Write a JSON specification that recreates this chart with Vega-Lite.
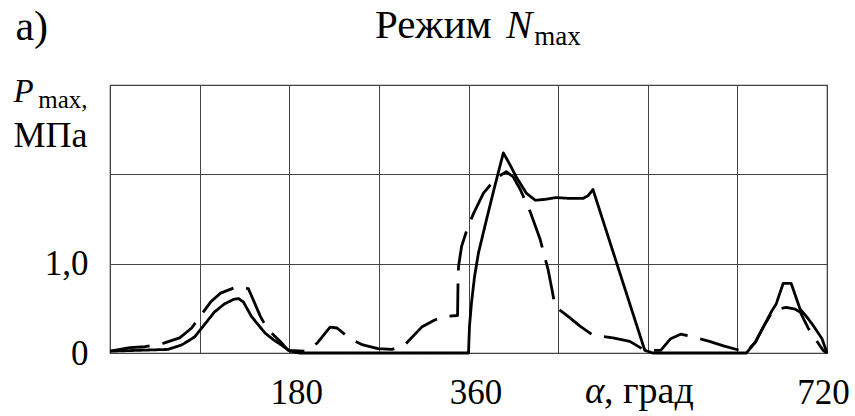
{
  "$schema": "https://vega.github.io/schema/vega-lite/v6.json",
  "width": 717,
  "height": 268,
  "autosize": "none",
  "padding": {"left": 110, "top": 85, "right": 28, "bottom": 63},
  "background": "white",
  "config": {
    "view": {"stroke": "#3a3a3a", "strokeWidth": 1.2},
    "font": "Liberation Serif, Times New Roman, serif",
    "axis": {"labelFont": "Liberation Serif, Times New Roman, serif"},
    "text": {"font": "Liberation Serif, Times New Roman, serif"}
  },
  "datasets": {
    "curves": [
      {"a": 0, "p": 0.02, "s": "solid"},
      {"a": 28, "p": 0.03, "s": "solid"},
      {"a": 58, "p": 0.04, "s": "solid"},
      {"a": 72, "p": 0.09, "s": "solid"},
      {"a": 85, "p": 0.18, "s": "solid"},
      {"a": 95, "p": 0.32, "s": "solid"},
      {"a": 105, "p": 0.46, "s": "solid"},
      {"a": 115, "p": 0.55, "s": "solid"},
      {"a": 124, "p": 0.6, "s": "solid"},
      {"a": 129, "p": 0.61, "s": "solid"},
      {"a": 134, "p": 0.57, "s": "solid"},
      {"a": 142, "p": 0.41, "s": "solid"},
      {"a": 150, "p": 0.3, "s": "solid"},
      {"a": 156, "p": 0.22, "s": "solid"},
      {"a": 164, "p": 0.15, "s": "solid"},
      {"a": 172, "p": 0.09, "s": "solid"},
      {"a": 181, "p": 0.02, "s": "solid"},
      {"a": 190, "p": 0.0, "s": "solid"},
      {"a": 360, "p": 0.0, "s": "solid"},
      {"a": 361, "p": 0.3, "s": "solid"},
      {"a": 363, "p": 0.56, "s": "solid"},
      {"a": 366, "p": 0.85, "s": "solid"},
      {"a": 370, "p": 1.12, "s": "solid"},
      {"a": 378, "p": 1.49, "s": "solid"},
      {"a": 386, "p": 1.85, "s": "solid"},
      {"a": 395, "p": 2.24, "s": "solid"},
      {"a": 402, "p": 2.1, "s": "solid"},
      {"a": 408, "p": 1.97, "s": "solid"},
      {"a": 418, "p": 1.79, "s": "solid"},
      {"a": 427, "p": 1.71, "s": "solid"},
      {"a": 437, "p": 1.72, "s": "solid"},
      {"a": 448, "p": 1.74, "s": "solid"},
      {"a": 462, "p": 1.73, "s": "solid"},
      {"a": 475, "p": 1.73, "s": "solid"},
      {"a": 480, "p": 1.76, "s": "solid"},
      {"a": 485, "p": 1.83, "s": "solid"},
      {"a": 537, "p": 0.03, "s": "solid"},
      {"a": 545, "p": 0.0, "s": "solid"},
      {"a": 639, "p": 0.0, "s": "solid"},
      {"a": 648, "p": 0.12, "s": "solid"},
      {"a": 656, "p": 0.29, "s": "solid"},
      {"a": 664, "p": 0.46, "s": "solid"},
      {"a": 669, "p": 0.55, "s": "solid"},
      {"a": 676, "p": 0.78, "s": "solid"},
      {"a": 684, "p": 0.78, "s": "solid"},
      {"a": 693, "p": 0.49, "s": "solid"},
      {"a": 700, "p": 0.4, "s": "solid"},
      {"a": 706, "p": 0.31, "s": "solid"},
      {"a": 715, "p": 0.16, "s": "solid"},
      {"a": 720, "p": 0.0, "s": "solid"},
      {"a": 0, "p": 0.02, "s": "dashed"},
      {"a": 20, "p": 0.06, "s": "dashed"},
      {"a": 35, "p": 0.07, "s": "dashed"},
      {"a": 54, "p": 0.11, "s": "dashed"},
      {"a": 70, "p": 0.17, "s": "dashed"},
      {"a": 82, "p": 0.28, "s": "dashed"},
      {"a": 101, "p": 0.57, "s": "dashed"},
      {"a": 111, "p": 0.67, "s": "dashed"},
      {"a": 127, "p": 0.74, "s": "dashed"},
      {"a": 139, "p": 0.72, "s": "dashed"},
      {"a": 151, "p": 0.41, "s": "dashed"},
      {"a": 158, "p": 0.27, "s": "dashed"},
      {"a": 171, "p": 0.13, "s": "dashed"},
      {"a": 179, "p": 0.03, "s": "dashed"},
      {"a": 196, "p": 0.02, "s": "dashed"},
      {"a": 208, "p": 0.11, "s": "dashed"},
      {"a": 221, "p": 0.29, "s": "dashed"},
      {"a": 228, "p": 0.28, "s": "dashed"},
      {"a": 241, "p": 0.16, "s": "dashed"},
      {"a": 254, "p": 0.09, "s": "dashed"},
      {"a": 269, "p": 0.05, "s": "dashed"},
      {"a": 283, "p": 0.04, "s": "dashed"},
      {"a": 296, "p": 0.09, "s": "dashed"},
      {"a": 313, "p": 0.29, "s": "dashed"},
      {"a": 326, "p": 0.37, "s": "dashed"},
      {"a": 336, "p": 0.41, "s": "dashed"},
      {"a": 349, "p": 0.42, "s": "dashed"},
      {"a": 349.5, "p": 0.8, "s": "dashed"},
      {"a": 350, "p": 0.97, "s": "dashed"},
      {"a": 353, "p": 1.19, "s": "dashed"},
      {"a": 359, "p": 1.4, "s": "dashed"},
      {"a": 365, "p": 1.56, "s": "dashed"},
      {"a": 375, "p": 1.79, "s": "dashed"},
      {"a": 388, "p": 1.96, "s": "dashed"},
      {"a": 398, "p": 2.03, "s": "dashed"},
      {"a": 405, "p": 1.97, "s": "dashed"},
      {"a": 412, "p": 1.83, "s": "dashed"},
      {"a": 422, "p": 1.58, "s": "dashed"},
      {"a": 432, "p": 1.27, "s": "dashed"},
      {"a": 440, "p": 0.93, "s": "dashed"},
      {"a": 444, "p": 0.7, "s": "dashed"},
      {"a": 447, "p": 0.52, "s": "dashed"},
      {"a": 460, "p": 0.41, "s": "dashed"},
      {"a": 472, "p": 0.3, "s": "dashed"},
      {"a": 485, "p": 0.2, "s": "dashed"},
      {"a": 505, "p": 0.17, "s": "dashed"},
      {"a": 522, "p": 0.13, "s": "dashed"},
      {"a": 537, "p": 0.03, "s": "dashed"},
      {"a": 553, "p": 0.03, "s": "dashed"},
      {"a": 563, "p": 0.16, "s": "dashed"},
      {"a": 573, "p": 0.21, "s": "dashed"},
      {"a": 586, "p": 0.18, "s": "dashed"},
      {"a": 602, "p": 0.13, "s": "dashed"},
      {"a": 616, "p": 0.08, "s": "dashed"},
      {"a": 639, "p": 0.01, "s": "dashed"},
      {"a": 648, "p": 0.12, "s": "dashed"},
      {"a": 656, "p": 0.29, "s": "dashed"},
      {"a": 664, "p": 0.44, "s": "dashed"},
      {"a": 670, "p": 0.49, "s": "dashed"},
      {"a": 679, "p": 0.51, "s": "dashed"},
      {"a": 688, "p": 0.49, "s": "dashed"},
      {"a": 693, "p": 0.46, "s": "dashed"},
      {"a": 701, "p": 0.28, "s": "dashed"},
      {"a": 716, "p": 0.03, "s": "dashed"},
      {"a": 720, "p": 0.0, "s": "dashed"}
    ]
  },
  "layer": [
    {
      "data": {"name": "curves"},
      "mark": {"type": "line", "color": "black", "strokeWidth": 2.8, "strokeJoin": "round"},
      "encoding": {
        "x": {
          "field": "a", "type": "quantitative",
          "scale": {"domain": [0, 720], "nice": false, "zero": false},
          "axis": {
            "values": [0, 90, 180, 270, 360, 450, 540, 630, 720],
            "grid": true, "gridColor": "#444", "gridWidth": 1, "gridOpacity": 1,
            "domain": false, "ticks": false, "title": null,
            "labelExpr": "datum.value == 180 || datum.value == 360 || datum.value == 720 ? datum.label : ''",
            "labelFont": "Liberation Serif, Times New Roman, serif", "labelFontSize": 35, "labelColor": "black",
            "labelBaseline": "alphabetic", "labelPadding": 50,
            "labelOffset": {"condition": {"test": "datum.value == 720", "value": -4}, "value": 7},
            "labelFlush": false, "labelOverlap": false
          }
        },
        "y": {
          "field": "p", "type": "quantitative",
          "scale": {"domain": [0, 3], "nice": false},
          "axis": {
            "values": [0, 1, 2, 3],
            "grid": true, "gridColor": "#444", "gridWidth": 1, "gridOpacity": 1,
            "domain": false, "ticks": false, "title": null,
            "labelExpr": "datum.value == 0 ? '0' : (datum.value == 1 ? '1,0' : '')",
            "labelFont": "Liberation Serif, Times New Roman, serif", "labelFontSize": 35, "labelColor": "black",
            "labelBaseline": "middle", "labelPadding": 22,
            "labelFlush": false, "labelOverlap": false
          }
        },
        "strokeDash": {
          "field": "s", "type": "nominal",
          "scale": {"domain": ["solid", "dashed"], "range": [[1, 0], [40, 13]]},
          "legend": null
        }
      }
    },
    {
      "data": {"values": [{}]},
      "mark": {"type": "text", "text": "а)", "align": "left", "baseline": "alphabetic", "font": "Liberation Serif, Times New Roman, serif", "fontSize": 42, "color": "black"},
      "encoding": {"x": {"datum": -95}, "y": {"datum": 3.5}}
    },
    {
      "data": {"values": [{}]},
      "mark": {"type": "text", "text": "Режим", "align": "left", "baseline": "alphabetic", "font": "Liberation Serif, Times New Roman, serif", "fontSize": 41, "color": "black"},
      "encoding": {"x": {"datum": 266}, "y": {"datum": 3.53}}
    },
    {
      "data": {"values": [{}]},
      "mark": {"type": "text", "text": "N", "align": "left", "baseline": "alphabetic", "font": "Liberation Serif, Times New Roman, serif", "fontStyle": "italic", "fontSize": 39, "color": "black"},
      "encoding": {"x": {"datum": 398}, "y": {"datum": 3.53}}
    },
    {
      "data": {"values": [{}]},
      "mark": {"type": "text", "text": "max", "align": "left", "baseline": "alphabetic", "font": "Liberation Serif, Times New Roman, serif", "fontSize": 27, "color": "black"},
      "encoding": {"x": {"datum": 426}, "y": {"datum": 3.45}}
    },
    {
      "data": {"values": [{}]},
      "mark": {"type": "text", "text": "P", "align": "left", "baseline": "alphabetic", "font": "Liberation Serif, Times New Roman, serif", "fontStyle": "italic", "fontSize": 33, "color": "black"},
      "encoding": {"x": {"datum": -97}, "y": {"datum": 2.81}}
    },
    {
      "data": {"values": [{}]},
      "mark": {"type": "text", "text": "max,", "align": "left", "baseline": "alphabetic", "font": "Liberation Serif, Times New Roman, serif", "fontSize": 25, "color": "black"},
      "encoding": {"x": {"datum": -72}, "y": {"datum": 2.74}}
    },
    {
      "data": {"values": [{}]},
      "mark": {"type": "text", "text": "МПа", "align": "left", "baseline": "alphabetic", "font": "Liberation Serif, Times New Roman, serif", "fontSize": 36, "color": "black"},
      "encoding": {"x": {"datum": -97}, "y": {"datum": 2.31}}
    },
    {
      "data": {"values": [{}]},
      "mark": {"type": "text", "text": "α", "align": "left", "baseline": "alphabetic", "font": "Liberation Serif, Times New Roman, serif", "fontStyle": "italic", "fontSize": 37, "color": "black"},
      "encoding": {"x": {"datum": 477}, "y": {"datum": -0.56}}
    },
    {
      "data": {"values": [{}]},
      "mark": {"type": "text", "text": ", град", "align": "left", "baseline": "alphabetic", "font": "Liberation Serif, Times New Roman, serif", "fontSize": 38, "color": "black"},
      "encoding": {"x": {"datum": 496}, "y": {"datum": -0.56}}
    }
  ]
}
